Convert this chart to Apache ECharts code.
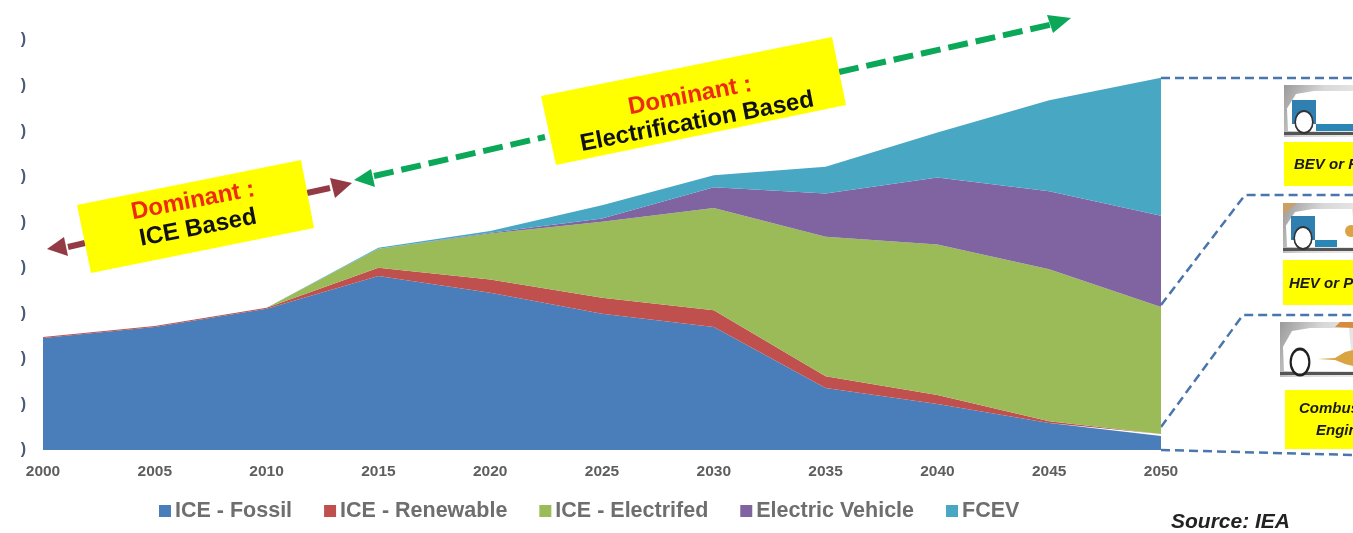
<!DOCTYPE html>
<html><head><meta charset="utf-8">
<style>html,body{margin:0;padding:0;background:#fff}#c{width:1353px;height:533px;filter:blur(0.5px)}</style>
<script src="https://cdn.jsdelivr.net/npm/echarts@6/dist/echarts.min.js"></script>
</head><body><div id="c"></div>
<script>
const years = ['2000','2005','2010','2015','2020','2025','2030','2035','2040','2045','2050'];
const iceFossil     = [246,270,310,382,345,299,270,136,101,59,31];
const iceRenewable  = [2,2,2,18,29,35,37,26,20,4,4];
const iceElectrified= [0,0,0,42,101,167,224,306,330,334,279];
const electricVehicle=[0,0,0,0,2,7,46,95,147,171,200];
const fcev          = [0,0,0,2,4,29,26,59,99,200,303];

const FONT = '"Liberation Sans",Arial,sans-serif';
const mk = (name,data,color)=>({name,type:'line',stack:'t',data,symbol:'none',
  lineStyle:{width:0,color},itemStyle:{color},areaStyle:{color,opacity:1},silent:true});

const G=[];
const dash=(pts,stroke,w,d)=>G.push({type:'polyline',silent:true,shape:{points:pts},style:{stroke,lineWidth:w,lineDash:d,fill:null}});
const poly=(pts,fill,smooth)=>G.push({type:'polygon',silent:true,shape:{points:pts,smooth:smooth||0},style:{fill}});
const rect=(x,y,w,h,fill)=>G.push({type:'rect',silent:true,shape:{x,y,width:w,height:h},style:{fill}});
const txt=(x,y,text,font,fill,rot,align)=>G.push({type:'text',silent:true,x,y,rotation:rot||0,originX:0,originY:0,
  style:{text,font,fill,align:align||'center',verticalAlign:'middle'}});
const circ=(cx,cy,r,fill,stroke,lw,sx)=>G.push({type:'circle',silent:true,x:cx,y:cy,scaleX:sx||1,shape:{cx:0,cy:0,r},style:{fill,stroke,lineWidth:lw||0}});

const MAROON='#933a44', GREEN='#0aa858', BLUE='#4a76ad', YEL='#ffff00';
// arrows
dash([[68,247],[85,243]],MAROON,6,[]);
poly([[47,249],[64,237],[68,256]],MAROON);
dash([[307,193],[330,188]],MAROON,6,[]);
poly([[352,183],[330,178],[335,198]],MAROON);
dash([[374,176],[545,137]],GREEN,6,[20,8]);
poly([[354,180],[371,169],[375,187]],GREEN);
dash([[839,72],[1054,24]],GREEN,6,[20,8]);
poly([[1071,18],[1047,15],[1053,33]],GREEN);
// dashed leader lines
dash([[1161,78],[1353,78]],BLUE,2.5,[9,5]);
dash([[1161,305],[1245,195],[1353,195]],BLUE,2.5,[9,5]);
dash([[1161,427],[1243,315],[1353,315]],BLUE,2.5,[9,5]);
dash([[1161,450],[1353,455]],BLUE,2.5,[9,5]);
// yellow callouts
poly([[77,205],[301,160],[314,228],[91,273]],YEL);
poly([[541,96],[832,37],[846,105],[556,165]],YEL);
const R=0.19;
txt(193,201,'Dominant :','bold 24px '+FONT,'#ee2a10',R);
txt(198,228,'ICE Based','bold 24px '+FONT,'#111',R);
txt(690,96,'Dominant :','bold 24px '+FONT,'#ee2a10',R);
txt(697,122,'Electrification Based','bold 24px '+FONT,'#111',R);
// vehicle cards
const grey={type:'linear',x:0,y:0,x2:1,y2:0.6,colorStops:[{offset:0,color:'#9a9a9a'},{offset:0.5,color:'#d8d8d8'},{offset:1,color:'#e8e8e8'}]};
function car(x,y,h,kind){
  rect(x,y,1353-x,h,grey);
  poly([[x+4,y+h-6],[x+3,y+h*0.45],[x+12,y+9],[x+30,y+6],[x+69,y+6],[x+73,y+h-6]],'#fff');
  rect(x,y+h-5,1353-x,3,'#555');
  const wx=x+20, wy=y+h-15;
  if(kind==='ice'){
    circ(x+20,y+40,13,'#fff','#222',3,0.72);
    poly([[x+38,y+37],[x+55,y+36],[x+65,y+30],[x+73,y+28],[x+73,y+44],[x+65,y+42],[x+55,y+38]],'#d9a441');
    poly([[x+60,y],[x+73,y],[x+73,y+6],[x+55,y+5]],'#d98a3d');
  } else {
    rect(x+8,y+h-37,24,24,'#2f7fb0');
    circ(wx,wy,11,'#fff','#333',2,0.8);
    rect(x+32,y+h-13,kind==='bev'?41:22,7,'#2a86b5');
    if(kind==='hev'){ circ(x+68,y+h-22,6,'#d9a441'); poly([[x,y],[x+14,y],[x,y+12]],'#c9a06a'); }
  }
}
car(1284,85,52,'bev'); rect(1284,142,69,44,YEL);
txt(1294,165,'BEV or FCEV','italic bold 15px '+FONT,'#1a1a1a',0,'left');
car(1283,203,50,'hev'); rect(1283,260,70,45,YEL);
txt(1289,284,'HEV or PHEV','italic bold 15px '+FONT,'#1a1a1a',0,'left');
car(1280,322,55,'ice'); rect(1285,390,68,59,YEL);
txt(1299,409,'Combustion','italic bold 15px '+FONT,'#1a1a1a',0,'left');
txt(1316,431,'Engine','italic bold 15px '+FONT,'#1a1a1a',0,'left');
txt(1171,522,'Source: IEA','italic bold 21px '+FONT,'#222',0,'left');

const chart=echarts.init(document.getElementById('c'),null,{renderer:'canvas'});
chart.setOption({
  animation:false,
  grid:{left:43,right:192,top:40,bottom:83,containLabel:false},
  legend:{left:154,top:495,icon:'rect',itemWidth:12,itemHeight:12,itemGap:32,selectedMode:false,
    textStyle:{fontFamily:FONT,fontWeight:'bold',fontSize:21.5,color:'#6e6e6e',padding:[0,0,0,-1]},
    data:['ICE - Fossil','ICE - Renewable','ICE - Electrifed','Electric Vehicle','FCEV']},
  xAxis:{type:'category',boundaryGap:false,data:years,
    axisLine:{show:false},axisTick:{show:false},splitLine:{show:false},
    axisLabel:{interval:0,margin:14,color:'#5e5e5e',fontFamily:FONT,fontWeight:'bold',fontSize:15.5}},
  yAxis:{type:'value',min:0,max:900,interval:100,
    axisLine:{show:false},axisTick:{show:false},splitLine:{show:false},
    axisLabel:{formatter:()=>')',margin:17,color:'#4a5a78',fontFamily:FONT,fontWeight:'bold',fontSize:16}},
  series:[
    mk('ICE - Fossil',iceFossil,'#4a7ebb'),
    mk('ICE - Renewable',iceRenewable,'#c0504d'),
    mk('ICE - Electrifed',iceElectrified,'#9bbb59'),
    mk('Electric Vehicle',electricVehicle,'#8064a2'),
    mk('FCEV',fcev,'#48a8c4')
  ],
  graphic:{elements:G}
});
</script></body></html>
